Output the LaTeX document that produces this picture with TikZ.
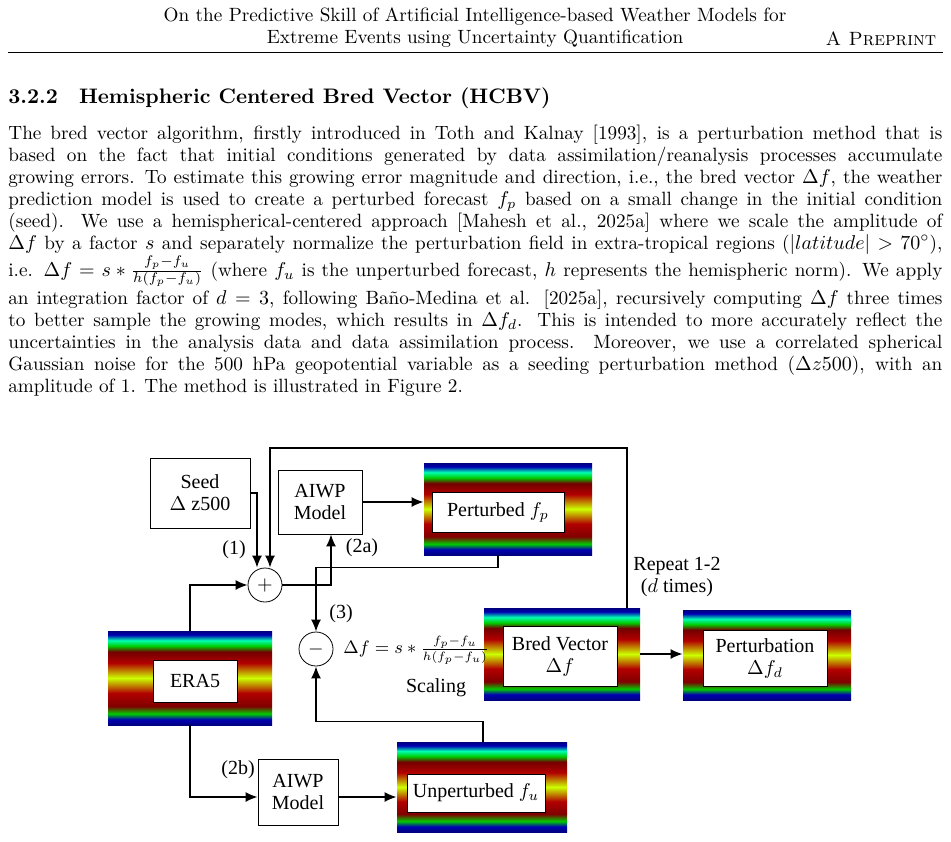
\documentclass[tikz,border=0pt]{standalone}
\usepackage{fontspec}
\usepackage{amsmath}
\newfontfamily\tms{Liberation Serif}
\usetikzlibrary{arrows.meta}
\pgfdeclareverticalshading{globe}{100bp}{%
  color(0bp)=(blue!50!black); color(25bp)=(blue!50!black); color(28bp)=(blue!70!black);
  color(31bp)=(green!80!black); color(35bp)=(red!50!black); color(42bp)=(red!70!black);
  color(50bp)=(yellow!80!green); color(58bp)=(red!70!black); color(64bp)=(red!45!black);
  color(67bp)=(green!80!black); color(70bp)=(cyan!70!green); color(73bp)=(blue!70!black);
  color(75bp)=(blue!50!black); color(100bp)=(blue!50!black)}
\newcommand\jline[1]{\makebox[467pt][s]{#1}}
\tikzset{
  map/.style={draw=none, minimum width=#1, shading=globe, inner sep=0pt},
  lbl/.style={draw, fill=white, align=center, inner sep=0pt, font=\tms\fontsize{10}{11}\selectfont},
  blk/.style={draw, fill=white, align=center, inner sep=0pt, font=\tms\fontsize{10}{11}\selectfont},
  sum/.style={draw, circle, minimum size=17pt, inner sep=0pt, font=\tms\fontsize{10}{11}\selectfont},
  tag/.style={font=\tms\fontsize{10}{11}\selectfont},
  flow/.style={-{Latex[length=6pt,width=5pt]}, thick},
  body/.style={anchor=base west, inner sep=0pt}
}
\begin{document}
\begin{tikzpicture}[x=0.5pt, y=-0.5pt]\fontsize{9.6}{10}\selectfont
\useasboundingbox (0,0) rectangle (951,841);
% header
\node (h1) at (475,17) {On the Predictive Skill of Artificial Intelligence-based Weather Models for};
\node (h2) at (475,39) {Extreme Events using Uncertainty Quantification};
\node[anchor=east] (h3) at (943,39) {\textsc{A Preprint}};
\draw[line width=0.4pt] (8,52) -- (943,52);
\node[body] (sec) at (8,103) {\bfseries\fontsize{10.5}{12}\selectfont 3.2.2\quad Hemispheric Centered Bred Vector (HCBV)};
% body text
\node[body] (l1) at (8,139) {\jline{The bred vector algorithm, firstly introduced in Toth and Kalnay [1993], is a perturbation method that is}};
\node[body] (l2) at (8,161) {\jline{based on the fact that initial conditions generated by data assimilation/reanalysis processes accumulate}};
\node[body] (l3) at (8,183) {\jline{growing errors. To estimate this growing error magnitude and direction, i.e., the bred vector $\Delta f$, the weather}};
\node[body] (l4) at (8,205) {\jline{prediction model is used to create a perturbed forecast $f_p$ based on a small change in the initial condition}};
\node[body] (l5) at (8,227) {\jline{(seed). We use a hemispherical-centered approach [Mahesh et al., 2025a] where we scale the amplitude of}};
\node[body] (l6) at (8,249) {\jline{$\Delta f$ by a factor $s$ and separately normalize the perturbation field in extra-tropical regions ($|latitude| > 70^\circ$),}};
\node[body] (l7) at (8,276) {\jline{i.e. $\Delta f = s*\frac{f_p-f_u}{h(f_p-f_u)}$ (where $f_u$ is the unperturbed forecast, $h$ represents the hemispheric norm). We apply}};
\node[body] (l8) at (8,304) {\jline{an integration factor of $d=3$, following Baño-Medina et al. [2025a], recursively computing $\Delta f$ three times}};
\node[body] (l9) at (8,326) {\jline{to better sample the growing modes, which results in $\Delta f_d$. This is intended to more accurately reflect the}};
\node[body] (l10) at (8,348) {\jline{uncertainties in the analysis data and data assimilation process. Moreover, we use a correlated spherical}};
\node[body] (l11) at (8,370) {\jline{Gaussian noise for the 500 hPa geopotential variable as a seeding perturbation method ($\Delta z500$), with an}};
\node[body] (l12) at (8,392) {amplitude of 1. The method is illustrated in Figure 2.};
% maps
\node[map=84pt, minimum height=46pt] (pmap) at (508,509) {};
\node[lbl, minimum width=66pt, minimum height=20pt] (pert) at (498,512) {Perturbed $f_p$};
\node[map=82pt, minimum height=47pt] (emap) at (190,678) {};
\node[lbl, minimum width=42pt, minimum height=21pt] (era) at (195,681) {ERA5};
\node[map=78pt, minimum height=46pt] (bmap) at (562,654) {};
\node[lbl, minimum width=57pt, minimum height=30pt] (bred) at (560,656) {Bred Vector\\$\Delta f$};
\node[map=84pt, minimum height=45pt] (dmap) at (767,655) {};
\node[lbl, minimum width=62pt, minimum height=28pt] (perdf) at (765,658) {Perturbation\\$\Delta f_d$};
\node[map=85pt, minimum height=45pt] (umap) at (482,787) {};
\node[lbl, minimum width=69pt, minimum height=19pt] (unp) at (476,793) {Unperturbed $f_u$};
% blocks
\node[blk, minimum width=50pt, minimum height=35pt] (seed) at (200,493) {Seed\\$\Delta$ z500};
\node[blk, minimum width=42pt, minimum height=32pt] (aiwpa) at (320,502) {AIWP\\Model};
\node[blk, minimum width=40pt, minimum height=33pt] (aiwpb) at (298,792) {AIWP\\Model};
\node[sum] (plus) at (265,585) {$+$};
\node[sum] (minus) at (316,649) {$-$};
% labels
\node[tag] (t1) at (234,550) {(1)};
\node[tag] (t2a) at (362,548) {(2a)};
\node[tag] (t3) at (341,614) {(3)};
\node[tag] (t2b) at (238,770) {(2b)};
\node[tag, anchor=west, inner sep=0pt, font=\fontsize{8.6}{10}\selectfont] (form) at (343,650) {$\Delta f = s*\frac{f_p-f_u}{h(f_p-f_u)}$};
\node[tag] (scl) at (436,688) {Scaling};
\node[tag, align=center] (rep) at (677,577) {Repeat 1-2\\($d$ times)};
% connectors
\draw[flow] (seed.east) -| ([xshift=-4pt]plus.north);
\draw[flow] ([xshift=32.5pt]bmap.north) |- (270,448) -- ([xshift=2.5pt]plus.north);
\draw[flow] (emap.north) |- (plus.west);
\draw[flow] (plus.east) -| ([xshift=5.5pt]aiwpa.south);
\draw[flow] (aiwpa.east) -- (aiwpa.east -| pmap.west);
\draw[flow] ([xshift=-5pt]pmap.south) -- ++(0,12) -| (minus.north);
\draw[flow] ([xshift=0.5pt]umap.north) -- ++(0,-20) -| (minus.south);
\draw[flow] (emap.south) |- ([yshift=-2.5pt]aiwpb.west);
\draw[flow] ([yshift=-2.5pt]aiwpb.east) -- ([yshift=-2.5pt]aiwpb.east -| umap.west);
\draw[flow] (bmap.east) -- (bmap.east -| dmap.west);
\end{tikzpicture}
\end{document}
